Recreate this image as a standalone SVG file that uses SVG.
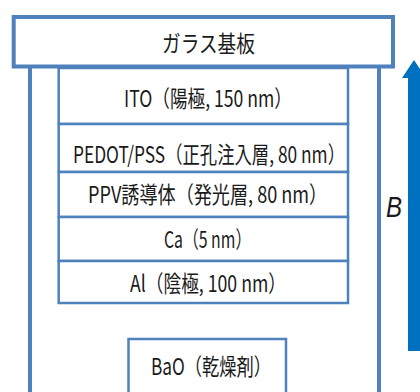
<svg xmlns="http://www.w3.org/2000/svg" width="420" height="392" viewBox="0 0 420 392">
<style>
.thick{fill:#fff;stroke:#4f81bd;stroke-width:4}
.wall{stroke:#4f81bd;stroke-width:4;fill:none}
.layer{fill:#fff;stroke:#4f81bd;stroke-width:2.5}
.t{font-family:"Noto Sans CJK JP","Noto Sans",sans-serif;font-size:23px;fill:#1a1a1a}
.arrow{fill:#0070c0}
</style>
<rect width="420" height="392" fill="#fff"/>
<g id="walls">
<line class="wall" x1="30" y1="66" x2="30" y2="395"/>
<line class="wall" x1="379" y1="66" x2="379" y2="395"/>
</g>
<g id="glass">
<rect class="thick" x="13.7" y="17" width="379.3" height="49.5"/>
<text class="t" transform="translate(162,52) scale(0.8,1)" textLength="116" lengthAdjust="spacingAndGlyphs">ガラス基板</text>
</g>
<g id="ito">
<rect class="layer" x="58.7" y="68" width="289.3" height="56"/>
<text class="t" transform="translate(124,107) scale(0.8,1)" textLength="210" lengthAdjust="spacingAndGlyphs">ITO（陽極, 150 nm）</text>
</g>
<g id="pedot">
<rect class="layer" x="58.7" y="124" width="289.3" height="48"/>
<text class="t" transform="translate(73,163) scale(0.8,1)" textLength="340" lengthAdjust="spacingAndGlyphs">PEDOT/PSS（正孔注入層, 80 nm）</text>
</g>
<g id="ppv">
<rect class="layer" x="58.7" y="172" width="289.3" height="45"/>
<text class="t" transform="translate(88,203) scale(0.8,1)" textLength="299" lengthAdjust="spacingAndGlyphs">PPV誘導体（発光層, 80 nm）</text>
</g>
<g id="ca">
<rect class="layer" x="58.7" y="217" width="289.3" height="44"/>
<text class="t" transform="translate(164,248) scale(0.8,1)" textLength="109" lengthAdjust="spacingAndGlyphs">Ca（5 nm）</text>
</g>
<g id="al">
<rect class="layer" x="58.7" y="261" width="289.3" height="42"/>
<text class="t" transform="translate(130,292) scale(0.8,1)" textLength="195" lengthAdjust="spacingAndGlyphs">Al（陰極, 100 nm）</text>
</g>
<g id="bao">
<rect class="layer" x="128.5" y="339" width="157.5" height="60"/>
<text class="t" transform="translate(151,375) scale(0.8,1)" textLength="150" lengthAdjust="spacingAndGlyphs">BaO（乾燥剤）</text>
</g>
<g id="connectors">
<polygon class="arrow" points="414,60 426,78 420,78 420,351 408,351 408,78 402,78"/>
</g>
<g id="label-B">
<text transform="translate(386,217) scale(0.83,1)" font-family="Liberation Sans, Arial, sans-serif" font-style="italic" font-size="29" fill="#1a1a1a">B</text>
</g>
</svg>
